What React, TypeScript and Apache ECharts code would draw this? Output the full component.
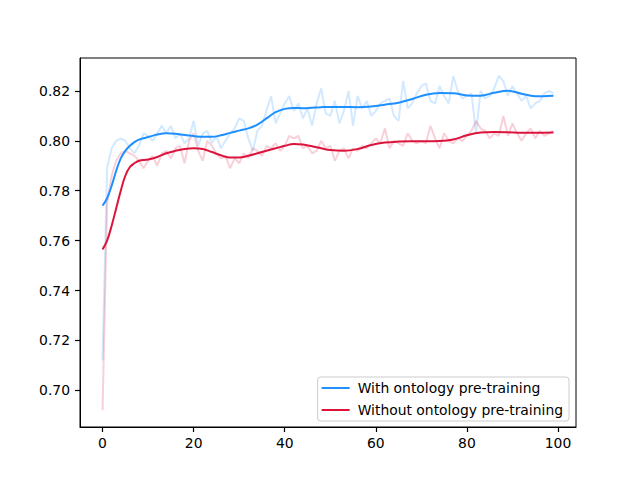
import React, { useEffect, useRef } from "react";
import * as echarts from "echarts";

const xTicks = [0, 20, 40, 60, 80, 100];
const yTicks = [0.7, 0.72, 0.74, 0.76, 0.78, 0.8, 0.82];

const blueRaw = [
  0.712, 0.789, 0.797, 0.800, 0.801, 0.800, 0.797, 0.795, 0.798, 0.803,
  0.802, 0.800, 0.803, 0.806, 0.803, 0.806, 0.801, 0.803, 0.799, 0.801,
  0.808, 0.798, 0.803, 0.804, 0.799, 0.802, 0.797, 0.800, 0.803, 0.805,
  0.809, 0.808, 0.801, 0.796, 0.804, 0.806, 0.812, 0.818, 0.807, 0.811,
  0.815, 0.818, 0.812, 0.815, 0.809, 0.813, 0.806, 0.815, 0.821, 0.811,
  0.810, 0.816, 0.807, 0.812, 0.820, 0.806, 0.818, 0.813, 0.816, 0.810,
  0.812, 0.815, 0.816, 0.817, 0.810, 0.808, 0.824, 0.813, 0.815, 0.819,
  0.822, 0.823, 0.816, 0.815, 0.822, 0.818, 0.815, 0.826, 0.820, 0.817,
  0.818, 0.819, 0.803, 0.820, 0.817, 0.818, 0.821, 0.826, 0.824, 0.818,
  0.822, 0.819, 0.816, 0.818, 0.813, 0.815, 0.816, 0.819, 0.820, 0.819,
];

const redRaw = [
  0.692, 0.775, 0.786, 0.792, 0.795, 0.796, 0.795, 0.794, 0.792, 0.789,
  0.792, 0.794, 0.790, 0.795, 0.796, 0.793, 0.797, 0.798, 0.791, 0.800,
  0.803, 0.796, 0.792, 0.800, 0.798, 0.795, 0.793, 0.794, 0.789, 0.793,
  0.791, 0.795, 0.793, 0.797, 0.796, 0.794, 0.798, 0.797, 0.799, 0.796,
  0.798, 0.802, 0.801, 0.802, 0.797, 0.798, 0.795, 0.796, 0.800, 0.797,
  0.798, 0.792, 0.796, 0.797, 0.793, 0.797, 0.796, 0.798, 0.797, 0.799,
  0.801, 0.799, 0.805, 0.797, 0.800, 0.799, 0.798, 0.803, 0.800, 0.799,
  0.800, 0.799, 0.806, 0.801, 0.797, 0.803, 0.800, 0.799, 0.801, 0.800,
  0.802, 0.804, 0.808, 0.805, 0.804, 0.801, 0.803, 0.802, 0.810, 0.802,
  0.807, 0.803, 0.800, 0.803, 0.805, 0.801, 0.804, 0.802, 0.803, 0.804,
];

const smoothX = [
  0, 1, 2, 3, 4, 5, 6, 7, 8, 10, 12, 14, 16, 18, 20, 22, 24, 26, 28, 30, 32, 34,
  36, 38, 40, 42, 44, 46, 48, 50, 53, 56, 59, 62, 65, 68, 71, 74, 77, 80, 83, 86,
  89, 92, 95, 99,
];

const blueSmooth = [
  0.774, 0.777, 0.782, 0.788, 0.793, 0.796, 0.798, 0.7995, 0.8005, 0.8015,
  0.8025, 0.803, 0.8028, 0.8023, 0.8019, 0.8016, 0.8016, 0.8022, 0.8032, 0.8041,
  0.805, 0.8065, 0.809, 0.8115, 0.8128, 0.8132, 0.8131, 0.8133, 0.8135, 0.8136,
  0.8136, 0.8135, 0.8138, 0.8145, 0.8153, 0.8168, 0.8185, 0.8192, 0.8191, 0.8182,
  0.8181, 0.8193, 0.8201, 0.8189, 0.8179, 0.8181,
];

const redSmooth = [
  0.7565, 0.760, 0.766, 0.773, 0.780, 0.786, 0.7895, 0.791, 0.792, 0.7925,
  0.7935, 0.795, 0.796, 0.7967, 0.797, 0.7967, 0.7955, 0.7942, 0.7933, 0.7933,
  0.794, 0.795, 0.796, 0.797, 0.798, 0.7987, 0.7985, 0.7978, 0.797, 0.7963,
  0.796, 0.7967, 0.7983, 0.7993, 0.7997, 0.7998, 0.7998, 0.7999, 0.8005, 0.8022,
  0.8033, 0.8035, 0.8034, 0.8032, 0.8032, 0.8033,
];

const BLUE = "#1E90FF";
const RED = "#DC143C";
const FONT = "DejaVu Sans";

export default function App() {
  const ref = useRef<HTMLDivElement>(null);
  useEffect(() => {
    if (!ref.current) return;
    const chart = echarts.init(ref.current, undefined, { renderer: "svg" });
    const rawPairs = (arr: number[]) => arr.map((v, i) => [i, v]);
    const smoothPairs = (arr: number[]) => arr.map((v, i) => [smoothX[i], v]);
    chart.setOption({
      animation: false,
      grid: {
        left: 80,
        right: 64,
        top: 58,
        bottom: 53,
        show: true,
        borderColor: "#000",
      },
      xAxis: {
        type: "value",
        min: -4.95,
        max: 103.95,
        splitLine: { show: false },
        axisLine: { show: true, onZero: false, lineStyle: { color: "#000" } },
        axisTick: {
          show: true,
          length: 5,
          lineStyle: { color: "#000", width: 1.2 },
          customValues: xTicks,
        },
        axisLabel: {
          color: "#000",
          fontSize: 13.9,
          fontFamily: FONT,
          margin: 9,
          customValues: xTicks,
        },
      },
      yAxis: {
        type: "value",
        min: 0.6853,
        max: 0.8332,
        splitLine: { show: false },
        axisLine: { show: true, onZero: false, lineStyle: { color: "#000" } },
        axisTick: {
          show: true,
          length: 5,
          lineStyle: { color: "#000", width: 1.2 },
          customValues: yTicks,
        },
        axisLabel: {
          color: "#000",
          fontSize: 13.9,
          fontFamily: FONT,
          margin: 10,
          customValues: yTicks,
          formatter: (v: number) => v.toFixed(2),
        },
      },
      legend: {
        data: ["With ontology pre-training", "Without ontology pre-training"],
        orient: "vertical",
        right: 71,
        bottom: 59,
        align: "left",
        icon: "rect",
        itemWidth: 28,
        itemHeight: 2,
        itemGap: 6,
        padding: [3, 6, 3, 4],
        borderColor: "#cccccc",
        borderWidth: 1,
        borderRadius: 3,
        backgroundColor: "rgba(255,255,255,0.8)",
        textStyle: {
          color: "#000",
          fontSize: 13.9,
          fontFamily: FONT,
          lineHeight: 16,
          padding: [0, 0, 0, 3],
        },
      },
      series: [
        {
          name: "raw-with",
          type: "line",
          data: rawPairs(blueRaw),
          showSymbol: false,
          lineStyle: { color: BLUE, width: 2, opacity: 0.2 },
          itemStyle: { color: BLUE },
          silent: true,
        },
        {
          name: "raw-without",
          type: "line",
          data: rawPairs(redRaw),
          showSymbol: false,
          lineStyle: { color: RED, width: 2, opacity: 0.2 },
          itemStyle: { color: RED },
          silent: true,
        },
        {
          name: "With ontology pre-training",
          type: "line",
          data: smoothPairs(blueSmooth),
          smooth: 0.4,
          showSymbol: false,
          lineStyle: { color: BLUE, width: 2 },
          itemStyle: { color: BLUE },
        },
        {
          name: "Without ontology pre-training",
          type: "line",
          data: smoothPairs(redSmooth),
          smooth: 0.4,
          showSymbol: false,
          lineStyle: { color: RED, width: 2 },
          itemStyle: { color: RED },
        },
      ],
    });
    return () => chart.dispose();
  }, []);
  return (
    <div
      ref={ref}
      style={{ position: "fixed", left: 0, top: 0, width: 640, height: 480, background: "#fff" }}
    />
  );
}
